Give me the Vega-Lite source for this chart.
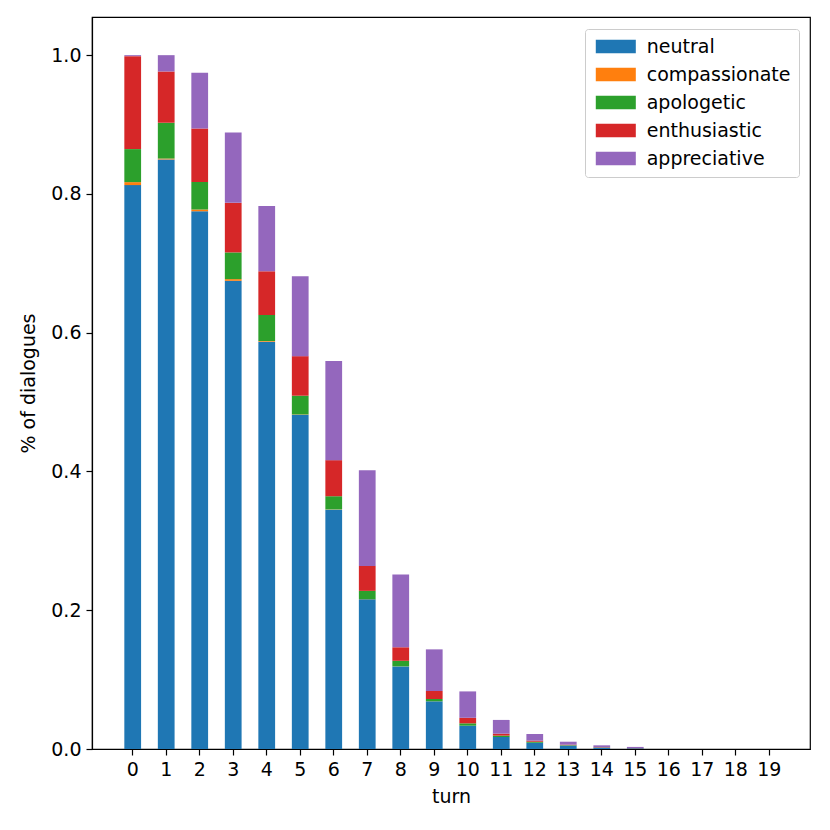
{
  "$schema": "https://vega.github.io/schema/vega-lite/v6.json",
  "autosize": "none",
  "width": 718,
  "height": 732,
  "padding": {"left": 92, "top": 17, "right": 20, "bottom": 81},
  "background": "white",
  "data": {
    "values": [
      {"turn": 0, "emotion": "neutral", "share": 0.8127},
      {"turn": 0, "emotion": "compassionate", "share": 0.0043},
      {"turn": 0, "emotion": "apologetic", "share": 0.0476},
      {"turn": 0, "emotion": "enthusiastic", "share": 0.134},
      {"turn": 0, "emotion": "appreciative", "share": 0.0014},
      {"turn": 1, "emotion": "neutral", "share": 0.8497},
      {"turn": 1, "emotion": "compassionate", "share": 0.0013},
      {"turn": 1, "emotion": "apologetic", "share": 0.0515},
      {"turn": 1, "emotion": "enthusiastic", "share": 0.074},
      {"turn": 1, "emotion": "appreciative", "share": 0.0235},
      {"turn": 2, "emotion": "neutral", "share": 0.775},
      {"turn": 2, "emotion": "compassionate", "share": 0.0025},
      {"turn": 2, "emotion": "apologetic", "share": 0.0397},
      {"turn": 2, "emotion": "enthusiastic", "share": 0.077},
      {"turn": 2, "emotion": "appreciative", "share": 0.0806},
      {"turn": 3, "emotion": "neutral", "share": 0.6748},
      {"turn": 3, "emotion": "compassionate", "share": 0.0024},
      {"turn": 3, "emotion": "apologetic", "share": 0.0385},
      {"turn": 3, "emotion": "enthusiastic", "share": 0.0715},
      {"turn": 3, "emotion": "appreciative", "share": 0.1014},
      {"turn": 4, "emotion": "neutral", "share": 0.587},
      {"turn": 4, "emotion": "compassionate", "share": 0.001},
      {"turn": 4, "emotion": "apologetic", "share": 0.0375},
      {"turn": 4, "emotion": "enthusiastic", "share": 0.063},
      {"turn": 4, "emotion": "appreciative", "share": 0.094},
      {"turn": 5, "emotion": "neutral", "share": 0.4817},
      {"turn": 5, "emotion": "compassionate", "share": 0.0005},
      {"turn": 5, "emotion": "apologetic", "share": 0.027},
      {"turn": 5, "emotion": "enthusiastic", "share": 0.057},
      {"turn": 5, "emotion": "appreciative", "share": 0.115},
      {"turn": 6, "emotion": "neutral", "share": 0.345},
      {"turn": 6, "emotion": "compassionate", "share": 0.0003},
      {"turn": 6, "emotion": "apologetic", "share": 0.019},
      {"turn": 6, "emotion": "enthusiastic", "share": 0.052},
      {"turn": 6, "emotion": "appreciative", "share": 0.143},
      {"turn": 7, "emotion": "neutral", "share": 0.2157},
      {"turn": 7, "emotion": "compassionate", "share": 0.0002},
      {"turn": 7, "emotion": "apologetic", "share": 0.012},
      {"turn": 7, "emotion": "enthusiastic", "share": 0.036},
      {"turn": 7, "emotion": "appreciative", "share": 0.138},
      {"turn": 8, "emotion": "neutral", "share": 0.119},
      {"turn": 8, "emotion": "compassionate", "share": 0.0001},
      {"turn": 8, "emotion": "apologetic", "share": 0.008},
      {"turn": 8, "emotion": "enthusiastic", "share": 0.0195},
      {"turn": 8, "emotion": "appreciative", "share": 0.105},
      {"turn": 9, "emotion": "neutral", "share": 0.0687},
      {"turn": 9, "emotion": "compassionate", "share": 0.0001},
      {"turn": 9, "emotion": "apologetic", "share": 0.0033},
      {"turn": 9, "emotion": "enthusiastic", "share": 0.0115},
      {"turn": 9, "emotion": "appreciative", "share": 0.06},
      {"turn": 10, "emotion": "neutral", "share": 0.0336},
      {"turn": 10, "emotion": "compassionate", "share": 0},
      {"turn": 10, "emotion": "apologetic", "share": 0.0034},
      {"turn": 10, "emotion": "enthusiastic", "share": 0.008},
      {"turn": 10, "emotion": "appreciative", "share": 0.038},
      {"turn": 11, "emotion": "neutral", "share": 0.0173},
      {"turn": 11, "emotion": "compassionate", "share": 0},
      {"turn": 11, "emotion": "apologetic", "share": 0.002},
      {"turn": 11, "emotion": "enthusiastic", "share": 0.0028},
      {"turn": 11, "emotion": "appreciative", "share": 0.0198},
      {"turn": 12, "emotion": "neutral", "share": 0.009},
      {"turn": 12, "emotion": "compassionate", "share": 0},
      {"turn": 12, "emotion": "apologetic", "share": 0.0015},
      {"turn": 12, "emotion": "enthusiastic", "share": 0.0015},
      {"turn": 12, "emotion": "appreciative", "share": 0.0096},
      {"turn": 13, "emotion": "neutral", "share": 0.0048},
      {"turn": 13, "emotion": "compassionate", "share": 0},
      {"turn": 13, "emotion": "apologetic", "share": 0.0007},
      {"turn": 13, "emotion": "enthusiastic", "share": 0.0008},
      {"turn": 13, "emotion": "appreciative", "share": 0.0042},
      {"turn": 14, "emotion": "neutral", "share": 0.002},
      {"turn": 14, "emotion": "compassionate", "share": 0},
      {"turn": 14, "emotion": "apologetic", "share": 0.0003},
      {"turn": 14, "emotion": "enthusiastic", "share": 0.0005},
      {"turn": 14, "emotion": "appreciative", "share": 0.0025},
      {"turn": 15, "emotion": "neutral", "share": 0.001},
      {"turn": 15, "emotion": "compassionate", "share": 0},
      {"turn": 15, "emotion": "apologetic", "share": 0.0001},
      {"turn": 15, "emotion": "enthusiastic", "share": 0.0003},
      {"turn": 15, "emotion": "appreciative", "share": 0.0016},
      {"turn": 16, "emotion": "neutral", "share": 0},
      {"turn": 17, "emotion": "neutral", "share": 0},
      {"turn": 18, "emotion": "neutral", "share": 0},
      {"turn": 19, "emotion": "neutral", "share": 0}
    ]
  },
  "transform": [
    {"calculate": "indexof(['neutral', 'compassionate', 'apologetic', 'enthusiastic', 'appreciative'], datum.emotion)", "as": "stackOrder"}
  ],
  "mark": {"type": "bar"},
  "encoding": {
    "x": {
      "field": "turn",
      "type": "ordinal",
      "scale": {"paddingInner": 0.5, "paddingOuter": 0.965},
      "axis": {"title": "turn", "labelAngle": 0}
    },
    "y": {
      "field": "share",
      "type": "quantitative",
      "stack": "zero",
      "scale": {"domain": [0, 1.055], "nice": false},
      "axis": {"title": "% of dialogues", "values": [0, 0.2, 0.4, 0.6, 0.8, 1.0], "format": ".1f", "grid": false, "titlePadding": 12}
    },
    "color": {
      "field": "emotion",
      "type": "nominal",
      "scale": {
        "domain": ["neutral", "compassionate", "apologetic", "enthusiastic", "appreciative"],
        "range": ["#1f77b4", "#ff7f0e", "#2ca02c", "#d62728", "#9467bd"]
      },
      "legend": {
        "title": null,
        "orient": "none",
        "legendX": 493,
        "legendY": 12,
        "symbolType": "M-3,-1H3V1H-3Z",
        "symbolSize": 178,
        "symbolOffset": 13.3,
        "symbolStrokeWidth": 0,
        "labelOffset": 21.4,
        "padding": 8,
        "rowPadding": 8,
        "fillColor": "white",
        "strokeColor": "#cccccc",
        "cornerRadius": 3
      }
    },
    "order": {"field": "stackOrder", "type": "quantitative", "sort": "ascending"}
  },
  "config": {
    "font": "DejaVu Sans",
    "view": {"stroke": "black", "strokeWidth": 1.2},
    "axis": {
      "domainColor": "black",
      "domainWidth": 1.2,
      "tickColor": "black",
      "tickWidth": 1.2,
      "tickSize": 6,
      "labelFont": "DejaVu Sans",
      "labelFontSize": 19,
      "labelColor": "black",
      "labelPadding": 5,
      "titleFont": "DejaVu Sans",
      "titleFontSize": 19,
      "titleFontWeight": "normal",
      "titleColor": "black",
      "titlePadding": 8
    },
    "legend": {
      "labelFont": "DejaVu Sans",
      "labelFontSize": 19,
      "labelColor": "black"
    }
  }
}
